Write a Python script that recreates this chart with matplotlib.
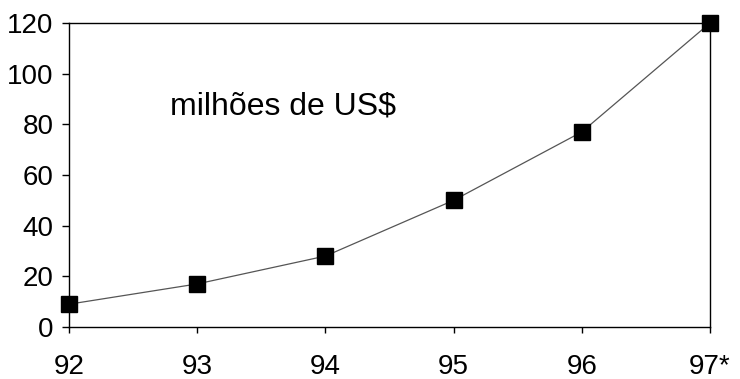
import matplotlib
matplotlib.use("Agg")
import matplotlib.pyplot as plt

years = ["92", "93", "94", "95", "96", "97*"]
values = [9, 17, 28, 50, 77, 120]
yticks = [0, 20, 40, 60, 80, 100, 120]
label = "milhões de US$"

plt.rcParams['font.family'] = ['Liberation Sans', 'DejaVu Sans']

fig = plt.figure(figsize=(7.4, 3.79), dpi=100)
ax = fig.add_axes([69/740, 52/379, 641/740, 304/379])
x = list(range(len(years)))
ax.plot(x, values, color='#555555', linewidth=0.9, marker='s', markersize=11,
        markerfacecolor='black', markeredgecolor='black', clip_on=False, zorder=3)
ax.set_xlim(0, len(years) - 1)
ax.set_ylim(0, 120)
ax.set_xticks(x)
ax.set_xticklabels(years)
ax.set_yticks(yticks)
for s in ax.spines.values():
    s.set_linewidth(1.0)
    s.set_color('black')
ax.tick_params(axis='both', direction='out', width=1, labelsize=20, colors='black')
ax.tick_params(axis='x', length=4.3, pad=15.5)
ax.tick_params(axis='y', length=5, pad=6)
ax.text(0.79, 87, label, fontsize=23, va='center', ha='left')
fig.savefig("out.png", dpi=100, facecolor='white')
